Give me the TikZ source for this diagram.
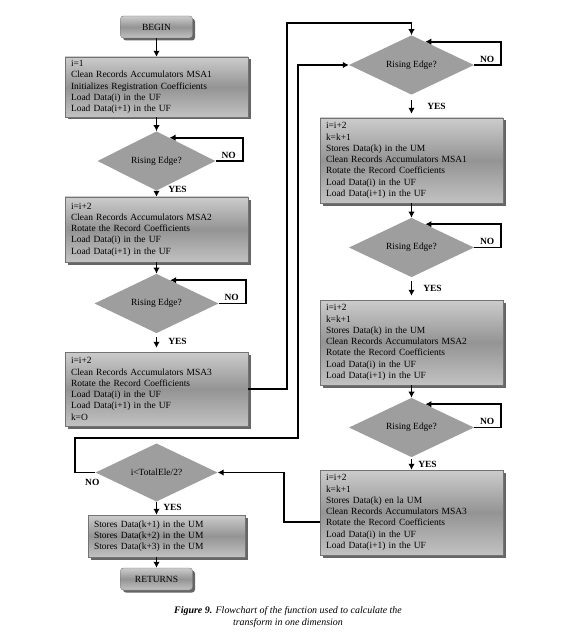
\documentclass[tikz,border=0pt]{standalone}
\usepackage{fontspec}
\setmainfont{Liberation Serif}
\usetikzlibrary{shapes.geometric,shadows,arrows.meta,calc}
\tikzset{
  boxsty/.style={rectangle, draw=black!55, line width=0.4bp,
    top color=black!20, bottom color=black!24, middle color=black!42,
    drop shadow={shadow xshift=2.5bp, shadow yshift=-2.5bp, fill=black!60, opacity=1},
    align=left, inner xsep=6bp, inner ysep=2bp,
    font=\fontsize{9.5}{11.3}\selectfont},
  termsty/.style={boxsty, rounded corners=3bp, align=center,
    minimum width=72bp, minimum height=22bp},
  diasty/.style={diamond, fill=black!38, draw=none, inner sep=0pt,
    font=\fontsize{9.5}{11.3}\selectfont},
  arr/.style={line width=1.8bp, -{Latex[length=6bp,width=6.5bp]}},
  lbl/.style={font=\fontsize{9.5}{11}\selectfont\bfseries, inner sep=0pt},
}
\begin{document}
\begin{tikzpicture}[x=1bp,y=-1bp]
\useasboundingbox (0,0) rectangle (580,634);
% left column
\node[termsty] (begin) at (156.5,27) {BEGIN};
\node[boxsty, minimum width=183bp, minimum height=60bp, text width=171bp] (b1) at (156.5,87)
  {i=1\\Clean Records Accumulators MSA1\\Initializes Registration Coefficients\\Load Data(i) in the UF\\Load Data(i+1) in the UF};
\node[diasty, minimum width=118bp, minimum height=52bp] (d1) at (156.5,161) {Rising Edge?};
\node[boxsty, minimum width=183bp, minimum height=65bp, text width=171bp] (b2) at (156.5,229.5)
  {i=i+2\\Clean Records Accumulators MSA2\\Rotate the Record Coefficients\\Load Data(i) in the UF\\Load Data(i+1) in the UF};
\node[diasty, minimum width=124bp, minimum height=53bp] (d2) at (156.5,303.5) {Rising Edge?};
\node[boxsty, minimum width=183bp, minimum height=74bp, text width=171bp] (b3) at (156.5,389)
  {i=i+2\\Clean Records Accumulators MSA3\\Rotate the Record Coefficients\\Load Data(i) in the UF\\Load Data(i+1) in the UF\\k=O};
\node[diasty, minimum width=122bp, minimum height=51bp] (d4) at (156.5,472.5) {i{\textless}TotalEle/2?};
\node[boxsty, minimum width=157bp, minimum height=42bp, text width=145bp] (b4) at (166.5,536)
  {Stores Data(k+1) in the UM\\Stores Data(k+2) in the UM\\Stores Data(k+3) in the UM};
\node[termsty] (ret) at (156.5,579) {RETURNS};
% right column
\node[diasty, minimum width=125bp, minimum height=52bp] (d3) at (411.5,65) {Rising Edge?};
\node[boxsty, minimum width=183bp, minimum height=85bp, text width=171bp] (b5) at (411.5,160.5)
  {i=i+2\\k=k+1\\Stores Data(k) in the UM\\Clean Records Accumulators MSA1\\Rotate the Record Coefficients\\Load Data(i) in the UF\\Load Data(i+1) in the UF};
\node[diasty, minimum width=125bp, minimum height=51bp] (d5) at (411.5,247.5) {Rising Edge?};
\node[boxsty, minimum width=183bp, minimum height=85bp, text width=171bp] (b6) at (411.5,342.5)
  {i=i+2\\k=k+1\\Stores Data(k) in the UM\\Clean Records Accumulators MSA2\\Rotate the Record Coefficients\\Load Data(i) in the UF\\Load Data(i+1) in the UF};
\node[diasty, minimum width=125bp, minimum height=51bp] (d6) at (411.5,427.5) {Rising Edge?};
\node[boxsty, minimum width=183bp, minimum height=85bp, text width=171bp] (b7) at (411.5,512.5)
  {i=i+2\\k=k+1\\Stores Data(k) en la UM\\Clean Records Accumulators MSA3\\Rotate the Record Coefficients\\Load Data(i) in the UF\\Load Data(i+1) in the UF};
% straight arrows
\draw[arr] (begin) -- (b1);
\draw[arr] (b1) -- (d1);
\draw[arr] (d1) -- (b2);
\draw[arr] (b2) -- (d2);
\draw[arr, shorten <=4bp, shorten >=4bp] (d2) -- (b3);
\draw[arr] (d4.south) -- (d4.south |- b4.north);
\draw[arr] (b4.south -| ret.north) -- (ret);
\draw[arr, shorten <=5bp, shorten >=4bp] (d3) -- (b5);
\draw[arr] (b5) -- (d5);
\draw[arr, shorten <=4bp, shorten >=4bp] (d5) -- (b6);
\draw[arr] (b6) -- (d6);
\draw[arr, shorten <=2bp] (d6) -- (b7);
% NO loops
\foreach \d in {d1,d2,d3,d5,d6}{
  \draw[arr] (\d.east) -- ++(27,0) |- ($(\d.north)!0.22!(\d.east)$);
  \node[lbl] at ($(\d.east)+(13,-6)$) {NO};
}
% YES labels
\node[lbl] at ($(d1.south)+(21,-1)$) {YES};
\node[lbl] at ($(d2.south)+(21,8)$) {YES};
\node[lbl] at ($(d3.south)+(25,12)$) {YES};
\node[lbl] at ($(d4.south)+(16,6)$) {YES};
\node[lbl] at ($(d5.south)+(21,11)$) {YES};
\node[lbl] at ($(d6.south)+(16,7)$) {YES};
\node[lbl] at ($(d4.west)+(-3,10)$) {NO};
% long connectors
\coordinate (c1) at (287,23);
\draw[arr] (b3.east) -| (c1) -| (d3.north);
\coordinate (c2) at (75,438);
\coordinate (c3) at (298,438);
\draw[arr] (d4.west) -| (c2) -- (c3) |- (d3.west);
\coordinate (c4) at ($(b7.north west)!0.61!(b7.south west)$);
\draw[arr] (c4) -- ++(-36,0) |- (d4.east);
% caption
\node[font=\fontsize{10}{12.5}\selectfont\itshape, align=center] (cap) at (288,617)
  {\textbf{Figure 9.} Flowchart of the function used to calculate the\\transform in one dimension};
\end{tikzpicture}
\end{document}
